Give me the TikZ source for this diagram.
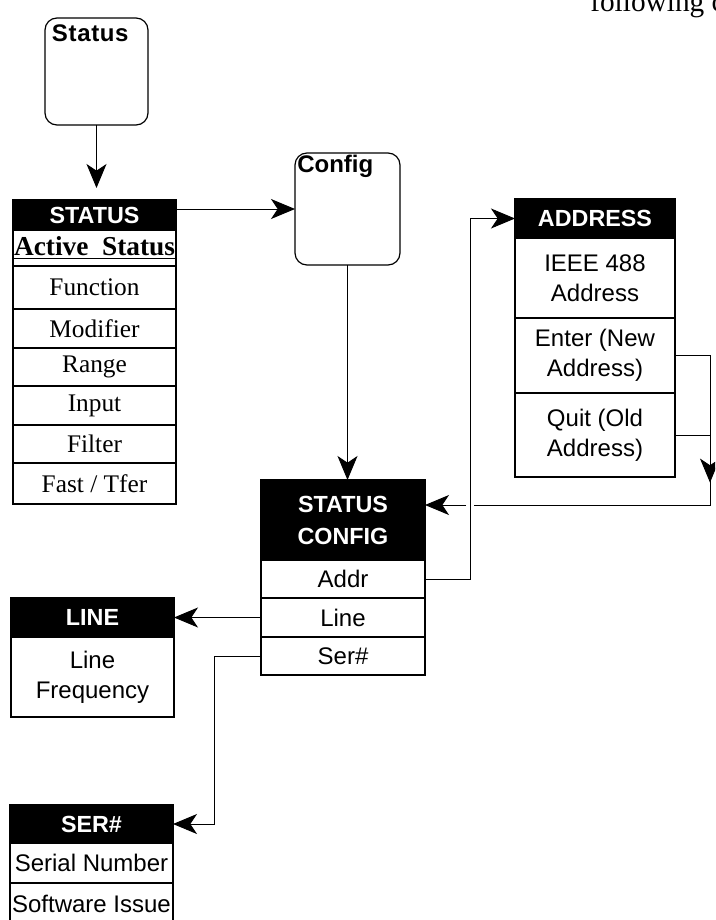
\documentclass[tikz,border=0pt]{standalone}
\usepackage{fontspec}
\setmainfont{Liberation Serif}
\setsansfont{Liberation Sans}
\usetikzlibrary{arrows.meta,calc}
\tikzset{
  cell/.style={draw=black, line width=0.8pt, inner sep=0pt, outer sep=0pt, align=center},
  hdr/.style={cell, fill=black, text=white, font=\sffamily\bfseries\fontsize{17.5}{24}\selectfont},
  srow/.style={cell, font=\fontsize{19}{22}\selectfont},
  arow/.style={cell, font=\sffamily\fontsize{18}{22.5}\selectfont},
  rbox/.style={draw=black, line width=0.9pt, rounded corners=9pt, inner sep=0pt, outer sep=0pt},
  boxlabel/.style={anchor=north west, font=\sffamily\bfseries\fontsize{18}{20}\selectfont},
  arr/.style={line width=0.7pt, -{Stealth[length=18pt,width=15pt,inset=5pt]}},
  wire/.style={line width=0.7pt}
}
\begin{document}
\begin{tikzpicture}[x=0.75pt,y=-0.75pt]
\useasboundingbox (0,0) rectangle (715,920);
\clip (0,0) rectangle (715,920);

% page text fragment (cut at the top edge, as in the reference)
\node[anchor=base west, inner sep=0pt, font=\fontsize{22}{22}\selectfont] (ftext) at (590,12) {following c};

% rounded boxes
\node[rbox, minimum width=77.25pt, minimum height=80.25pt,
      label={[boxlabel, inner sep=5pt]north west:S\kern0.5pt t\kern0.5pt a\kern0.5pt t\kern0.5pt u\kern0.5pt s}] (status) at (96.5,71.5) {};
\node[rbox, minimum width=78.75pt, minimum height=84pt,
      label={[boxlabel, inner sep=1.5pt]north west:Config}] (config) at (347.5,209) {};

% STATUS table
\node[hdr, minimum width=122.25pt, minimum height=22.5pt] (stathdr) at (94.5,215) {STATUS};
\node[cell, minimum width=122.25pt, minimum height=27pt, font=\bfseries\fontsize{20.5}{22}\selectfont] (sactive) at (94.5,248) {\underline{Active\ \ Status}};
\node[srow, minimum width=122.25pt, minimum height=32.25pt] (sfunc) at (94.5,287.5) {Function};
\node[srow, minimum width=122.25pt, minimum height=29.25pt] (smod) at (94.5,328.5) {Modifier};
\node[srow, minimum width=122.25pt, minimum height=28.5pt] (srange) at (94.5,367) {Range};
\node[srow, minimum width=122.25pt, minimum height=29.25pt] (sinput) at (94.5,405.5) {Input};
\node[srow, minimum width=122.25pt, minimum height=28.5pt] (sfilter) at (94.5,444) {Filter};
\node[srow, minimum width=122.25pt, minimum height=30.75pt] (sfast) at (94.5,483.5) {Fast / Tfer};

% STATUS CONFIG table
\node[hdr, minimum width=123pt, minimum height=60pt] (schdr) at (343,520) {STATUS\\CONFIG};
\node[arow, minimum width=123pt, minimum height=28.5pt] (saddr) at (343,579) {Addr};
\node[arow, minimum width=123pt, minimum height=29.25pt] (sline) at (343,617.5) {Line};
\node[arow, minimum width=123pt, minimum height=28.5pt] (sser) at (343,656) {Ser\#};

% ADDRESS table
\node[hdr, minimum width=120pt, minimum height=29.25pt] (ahdr) at (595,218.5) {ADDRESS};
\node[arow, minimum width=120pt, minimum height=60pt] (aieee) at (595,278) {IEEE 488\\Address};
\node[arow, minimum width=120pt, minimum height=56.25pt] (aenter) at (595,355.5) {Enter (New\\Address)};
\node[arow, minimum width=120pt, minimum height=63pt] (aquit) at (595,435) {Quit (Old\\Address)};

% LINE table
\node[hdr, minimum width=122.25pt, minimum height=29.25pt] (lhdr) at (92.5,617.5) {LINE};
\node[arow, minimum width=122.25pt, minimum height=60pt] (lbody) at (92.5,677) {Line\\Frequency};

% SER# table
\node[hdr, minimum width=122.25pt, minimum height=28.5pt] (shdr) at (91.5,824) {SER\#};
\node[arow, minimum width=122.25pt, minimum height=30pt] (sserial) at (91.5,863) {Serial Number};
\node[arow, minimum width=122.25pt, minimum height=30.75pt] (ssoft) at (91.5,903.5) {Software Issue};

% connectors
\draw[arr, shorten >=9pt] (status.south) -- (status.south |- stathdr.north);
\draw[arr] (stathdr.east |- config.west) -- (config.west);
\draw[arr] (config.south) -- (config.south |- schdr.north);

\coordinate (av) at ($(saddr.east)+(45,0)$);
\draw[arr] (saddr.east) -- (av) |- (ahdr.west);

\coordinate (rt) at ($(aenter.east)+(35,0)$);
\coordinate (scin) at ($(schdr.north east)+(0,25)$);
\coordinate (rb) at (rt |- scin);
\draw[arr] (aenter.east) -- (rt) -- ($(rt)!0.85!(rb)$);
\draw[wire] (aquit.east) -- (aquit.east -| rt);
\draw[wire] (rt) -- (rb) -- ($(av |- scin)+(4,0)$);
\draw[arr] ($(av |- scin)+(-4,0)$) -- (scin);

\draw[arr] (sline.west) -- (lhdr.east);
\coordinate (sv) at ($(sser.west)+(-47,0)$);
\draw[arr] (sser.west) -- (sv) |- (shdr.east);
\end{tikzpicture}
\end{document}
